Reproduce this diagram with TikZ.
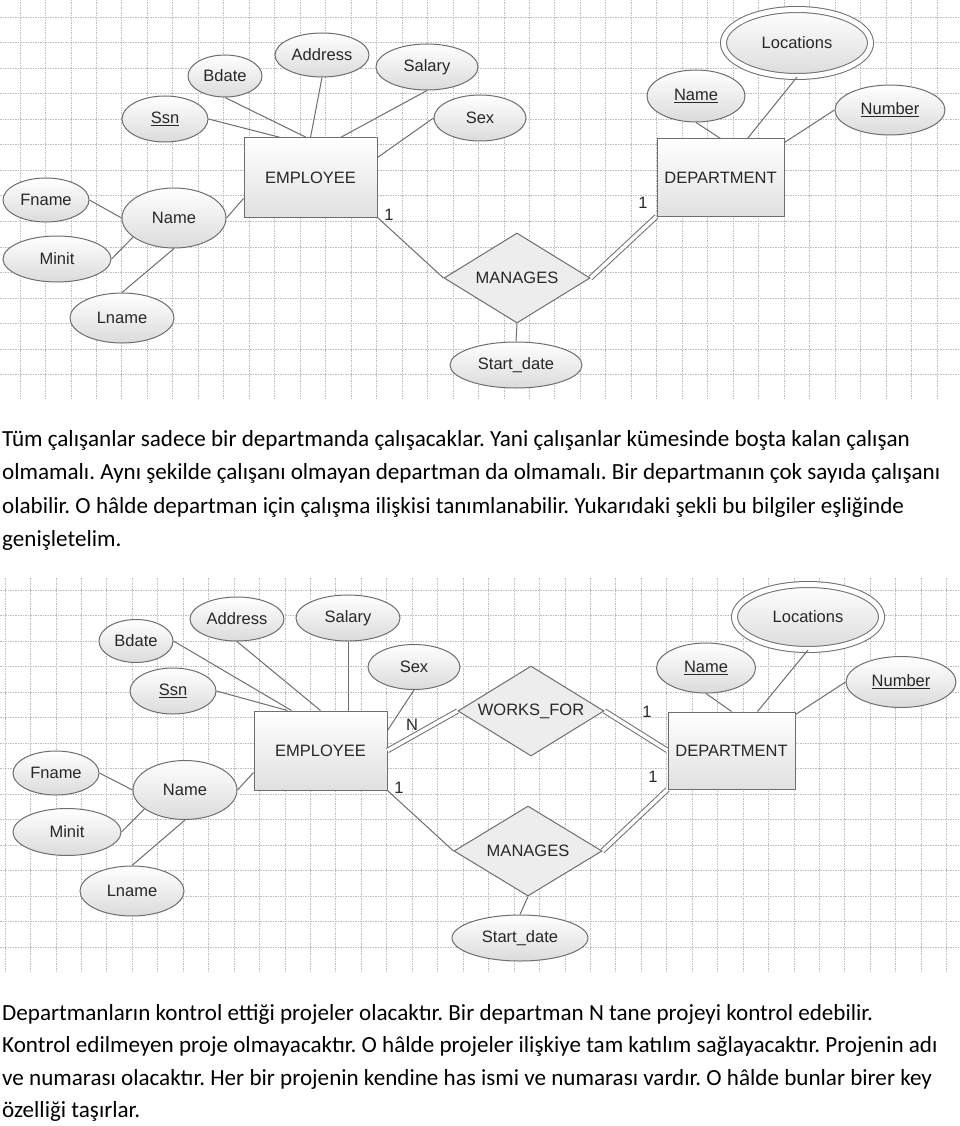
\documentclass[tikz,border=0pt]{standalone}
\usepackage{fontspec}
\setmainfont{Carlito}
\newfontfamily\erfont{Liberation Sans}
\usetikzlibrary{shapes.geometric}
\definecolor{linegray}{RGB}{110,110,110}
\definecolor{gridgray}{RGB}{190,190,190}
\definecolor{labelgray}{RGB}{40,40,40}
\frenchspacing

\begin{document}
\begin{tikzpicture}[x=1pt, y=-1pt,
    gridline/.style={gridgray, line width=0.8pt, dash pattern=on 1.5pt off 1pt},
    erlabel/.style={text=labelgray, font=\erfont\fontsize{16.5}{18}\selectfont},
    attr/.style={erlabel, ellipse, draw=linegray, line width=1pt, top color=white, bottom color=black!14, inner sep=0pt},
    multi/.style={attr, double=white, double distance=5pt},
    entity/.style={erlabel, rectangle, draw=linegray, line width=1pt, top color=white, bottom color=black!12, inner sep=0pt},
    rel/.style={erlabel, diamond, aspect=1.6, draw=linegray, line width=1pt, fill=black!7, inner sep=0pt, minimum width=146pt, minimum height=90pt},
    link/.style={linegray, line width=1pt},
    total/.style={linegray, line width=1pt, double=white, double distance=3.5pt},
    card/.style={erlabel, inner sep=0pt},
    para/.style={anchor=base west, inner sep=0pt, font=\fontsize{23.1}{26}\selectfont}]
    \useasboundingbox (0,0) rectangle (960,1126);
    \fill[white] (0,0) rectangle (960,1126);

    % grids
    \foreach \i in {0,...,36} \draw[gridline] ({20+25.47*\i},0) -- ({20+25.47*\i},400);
    \foreach \j in {0,...,14} \draw[gridline] (0,{17+25.55*\j}) -- (960,{17+25.55*\j});
    \foreach \i in {0,...,37} \draw[gridline] ({5+25.45*\i},578) -- ({5+25.45*\i},972);
    \foreach \j in {0,...,14} \draw[gridline] (0,{590+25.5*\j}) -- (960,{590+25.5*\j});

    % first diagram
    \node[entity, minimum width=133pt, minimum height=79pt] (emp1) at (310.5,177.5) {EMPLOYEE};
    \node[entity, minimum width=127pt, minimum height=77pt] (dep1) at (720.5,177.5) {DEPARTMENT};
    \node[rel] (man1) at (517,278) {MANAGES};
    \node[attr, minimum width=86pt, minimum height=46pt] (ssn1) at (165,119) {\underline{Ssn}};
    \node[attr, minimum width=74pt, minimum height=42pt] (bdate1) at (225,76) {Bdate};
    \node[attr, minimum width=94pt, minimum height=44pt] (addr1) at (322,55) {Address};
    \node[attr, minimum width=102pt, minimum height=46pt] (sal1) at (427,67) {Salary};
    \node[attr, minimum width=92pt, minimum height=46pt] (sex1) at (480,118) {Sex};
    \node[attr, minimum width=86pt, minimum height=44pt] (fname1) at (46,200) {Fname};
    \node[attr, minimum width=104pt, minimum height=60pt] (name1) at (174,218) {Name};
    \node[attr, minimum width=108pt, minimum height=46pt] (minit1) at (57,259) {Minit};
    \node[attr, minimum width=104pt, minimum height=50pt] (lname1) at (122,318) {Lname};
    \node[attr, minimum width=132pt, minimum height=46pt] (start1) at (516,365) {Start\_date};
    \node[multi, minimum width=147pt, minimum height=67pt] (loc1) at (797,43) {Locations};
    \node[attr, minimum width=98pt, minimum height=52pt] (dname1) at (696,96) {\underline{Name}};
    \node[attr, minimum width=110pt, minimum height=50pt] (num1) at (890,110) {\underline{Number}};
    \node[card] (c1a) at (389,215) {1};
    \node[card] (c1b) at (643,203) {1};

    \draw[link] (ssn1.east) -- ([xshift=-30pt]emp1.north);
    \draw[link] (bdate1.south) -- ([xshift=-4pt]emp1.north);
    \draw[link] (addr1.south) -- (emp1.north);
    \draw[link] (sal1.south) -- ([xshift=30pt]emp1.north);
    \draw[link] (sex1.west) -- ([yshift=20pt]emp1.east);
    \draw[link] (name1.east) -- ([yshift=-21pt]emp1.west);
    \draw[link] (fname1.east) -- (name1.west);
    \draw[link] (minit1.east) -- (name1.205);
    \draw[link] (lname1.north) -- (name1.south);
    \draw[link] (emp1.south east) -- (man1.west);
    \draw[total] (dep1.south west) -- (man1.east);
    \draw[link] (man1.south) -- (start1.north);
    \draw[link] (dname1.south) -- (dep1.north);
    \draw[link] (loc1.south) -- ([xshift=27pt]dep1.north);
    \draw[link] (num1.west) -- ([yshift=-4pt]dep1.north east);

    % second diagram
    \node[entity, minimum width=133pt, minimum height=79pt] (emp2) at (320.5,750.5) {EMPLOYEE};
    \node[entity, minimum width=127pt, minimum height=77pt] (dep2) at (731.5,750.5) {DEPARTMENT};
    \node[rel] (works2) at (531,711) {WORKS\_FOR};
    \node[rel, minimum width=148pt] (man2) at (528,851) {MANAGES};
    \node[attr, minimum width=74pt, minimum height=43pt] (bdate2) at (136,641) {Bdate};
    \node[attr, minimum width=94pt, minimum height=44pt] (addr2) at (237,619) {Address};
    \node[attr, minimum width=104pt, minimum height=46pt] (sal2) at (348,618) {Salary};
    \node[attr, minimum width=86pt, minimum height=46pt] (ssn2) at (173,691) {\underline{Ssn}};
    \node[attr, minimum width=92pt, minimum height=45pt] (sex2) at (414,667) {Sex};
    \node[attr, minimum width=86pt, minimum height=44pt] (fname2) at (56,773) {Fname};
    \node[attr, minimum width=104pt, minimum height=59pt] (name2) at (185,790) {Name};
    \node[attr, minimum width=108pt, minimum height=47pt] (minit2) at (67,832) {Minit};
    \node[attr, minimum width=104pt, minimum height=50pt] (lname2) at (132,891) {Lname};
    \node[attr, minimum width=136pt, minimum height=46pt] (start2) at (520,938) {Start\_date};
    \node[multi, minimum width=147pt, minimum height=65pt] (loc2) at (808,617) {Locations};
    \node[attr, minimum width=99pt, minimum height=50pt] (dname2) at (706,668) {\underline{Name}};
    \node[attr, minimum width=110pt, minimum height=51pt] (num2) at (901,682) {\underline{Number}};
    \node[card] (c2n) at (412,725) {N};
    \node[card] (c2a) at (399,788) {1};
    \node[card] (c2b) at (647,712) {1};
    \node[card] (c2c) at (653,777) {1};

    \draw[link] (bdate2.east) -- ([xshift=38pt]emp2.north west);
    \draw[link] (addr2.south) -- (emp2.north);
    \draw[link] (sal2.south) -- (sal2.south |- emp2.north);
    \draw[link] (ssn2.east) -- ([xshift=34pt]emp2.north west);
    \draw[link] (sex2.south) -- ([yshift=20pt]emp2.east);
    \draw[link] (name2.east) -- ([yshift=-22pt]emp2.west);
    \draw[link] (fname2.east) -- (name2.west);
    \draw[link] (minit2.east) -- (name2.205);
    \draw[link] (lname2.north) -- (name2.south);
    \draw[total] (emp2.east) -- (works2.west);
    \draw[total] (works2.east) -- (dep2.west);
    \draw[link] (emp2.south east) -- (man2.west);
    \draw[total] (dep2.south west) -- (man2.east);
    \draw[link] (man2.south) -- (start2.north);
    \draw[link] (dname2.south) -- (dep2.north);
    \draw[link] (loc2.south) -- ([xshift=26pt]dep2.north);
    \draw[link] (num2.west) -- ([yshift=-3pt]dep2.north east);

    % text
    \node[para] (p1a) at (2,446) {Tüm çalışanlar sadece bir departmanda çalışacaklar. Yani çalışanlar kümesinde boşta kalan çalışan};
    \node[para] (p1b) at (2,479.5) {olmamalı. Aynı şekilde çalışanı olmayan departman da olmamalı. Bir departmanın çok sayıda çalışanı};
    \node[para] (p1c) at (2,513) {olabilir. O hâlde departman için çalışma ilişkisi tanımlanabilir. Yukarıdaki şekli bu bilgiler eşliğinde};
    \node[para] (p1d) at (2,546.5) {genişletelim.};
    \node[para] (p2a) at (2,1020) {Departmanların kontrol ettiği projeler olacaktır. Bir departman N tane projeyi kontrol edebilir.};
    \node[para] (p2b) at (2,1052.5) {Kontrol edilmeyen proje olmayacaktır. O hâlde projeler ilişkiye tam katılım sağlayacaktır. Projenin adı};
    \node[para] (p2c) at (2,1085) {ve numarası olacaktır. Her bir projenin kendine has ismi ve numarası vardır. O hâlde bunlar birer key};
    \node[para] (p2d) at (2,1117.5) {özelliği taşırlar.};
\end{tikzpicture}
\end{document}
